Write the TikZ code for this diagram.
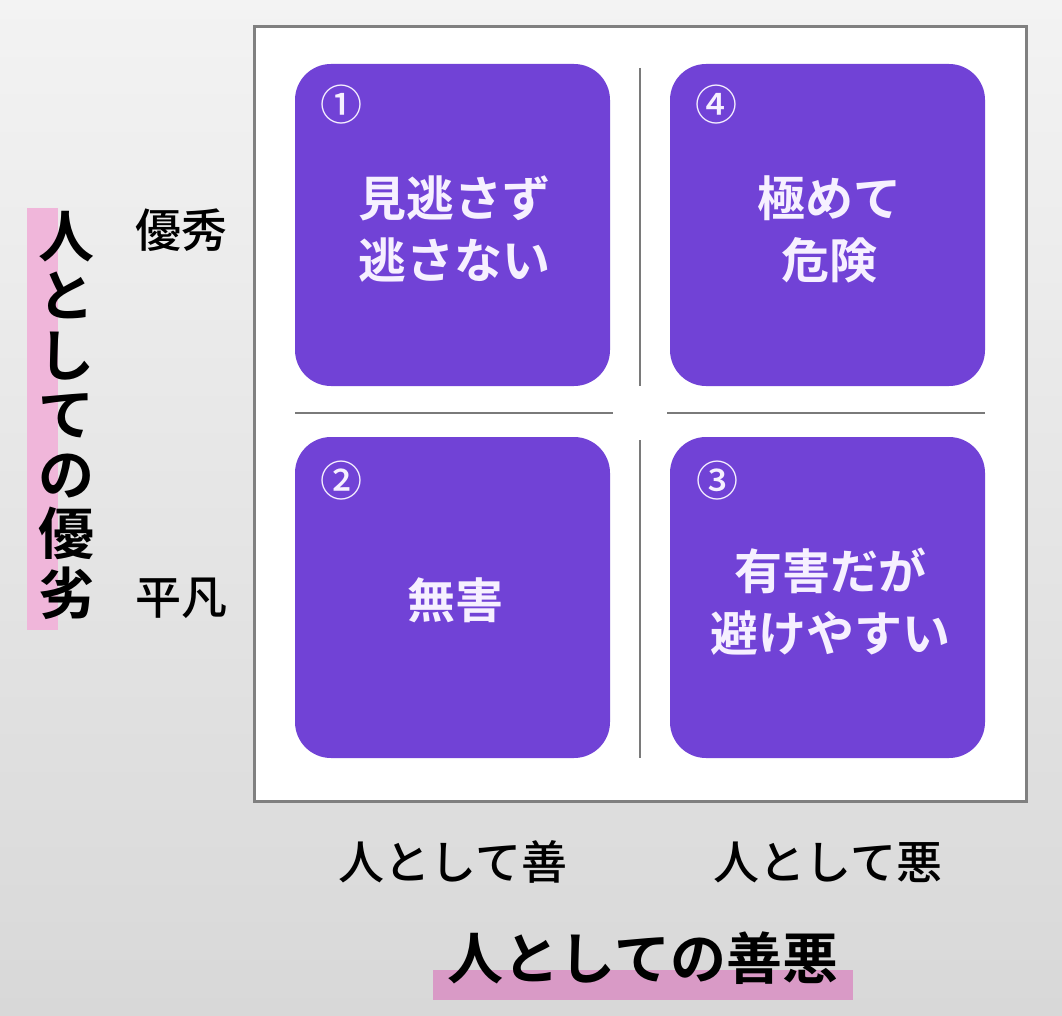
\documentclass[tikz,border=0pt]{standalone}
\usepackage{fontspec}
\newfontfamily\jp{Noto Sans CJK JP Medium}
\newfontfamily\jpb{Noto Sans CJK JP Bold}
\definecolor{bgtop}{HTML}{F3F3F3}
\definecolor{bgbot}{HTML}{D8D8D8}
\definecolor{quad}{HTML}{7142D6}
\definecolor{pinkA}{HTML}{F0B6DA}
\definecolor{pinkB}{HTML}{D99AC6}
\definecolor{frameC}{HTML}{808080}
\definecolor{sepC}{HTML}{7A7A7A}
\definecolor{boxtext}{HTML}{F6F0FF}
\tikzset{
  quadbox/.style={fill=quad, draw=none, rounded corners=36pt},
  quadtext/.style={text=boxtext, align=center, inner sep=0pt, font=\jpb\fontsize{48}{62}\selectfont},
  numtext/.style={text=boxtext, inner sep=0pt, font=\jp\fontsize{42}{44}\selectfont},
  sep/.style={draw=sepC, line width=2pt},
  axislabel/.style={text=black, inner sep=0pt, font=\jp\fontsize{46}{50}\selectfont},
  axistitle/.style={text=black, inner sep=0pt, font=\jpb\fontsize{56}{60}\selectfont}
}
\begin{document}
\begin{tikzpicture}[x=1pt,y=-1pt]
\useasboundingbox (0,0) rectangle (1062,1016);
\shade[top color=bgtop, bottom color=bgbot] (0,0) rectangle (1062,1016);
% frame
\draw[frameC, line width=3pt, fill=white] (254,27) rectangle (1026,801);
% separators
\coordinate (vt1) at (640,68);  \coordinate (vb1) at (640,386);
\coordinate (vt2) at (640,440); \coordinate (vb2) at (640,758);
\coordinate (hl1) at (295,413); \coordinate (hr1) at (613,413);
\coordinate (hl2) at (667,413); \coordinate (hr2) at (985,413);
\draw[sep] (vt1) -- (vb1);
\draw[sep] (vt2) -- (vb2);
\draw[sep] (hl1) -- (hr1);
\draw[sep] (hl2) -- (hr2);
% quadrants
\fill[quadbox] (295,64) rectangle (610,386);
\fill[quadbox] (670,64) rectangle (985,386);
\fill[quadbox] (295,437) rectangle (610,758);
\fill[quadbox] (670,437) rectangle (985,758);
\node[numtext] (n1) at (341,105) {①};
\node[numtext] (n4) at (716,105) {④};
\node[numtext] (n2) at (341,481) {②};
\node[numtext] (n3) at (717,481) {③};
\node[quadtext] (q1) at (454,229) {見逃さず\\逃さない};
\node[quadtext] (q4) at (829,229) {極めて\\危険};
\node[quadtext] (q2) at (455,600) {無害};
\node[quadtext] (q3) at (830,602) {有害だが\\避けやすい};
% left axis
\fill[pinkA] (27,208) rectangle (58,630);
\node[axistitle, align=center, font=\jpb\fontsize{56}{59.5}\selectfont] (ytitle) at (66,415) {人\\と\\し\\て\\の\\優\\劣};
\node[axislabel] (hi) at (181,230) {優秀};
\node[axislabel] (lo) at (181,598) {平凡};
% bottom axis
\fill[pinkB] (433,970) rectangle (853,1000);
\node[axislabel] (good) at (453,862) {人として善};
\node[axislabel] (bad) at (828,862) {人として悪};
\node[axistitle] (xtitle) at (643,958) {人としての善悪};
\end{tikzpicture}
\end{document}
